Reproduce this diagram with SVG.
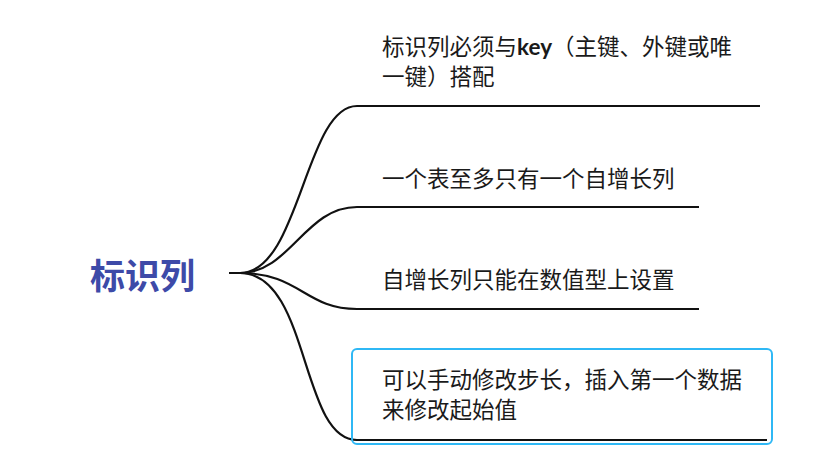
<svg xmlns="http://www.w3.org/2000/svg" width="835" height="472" viewBox="0 0 835 472">
<style>
.t{font-family:"Noto Sans CJK SC","Noto Sans",sans-serif;font-size:22.5px;fill:#1a1a1a}
.root{font-family:"Noto Sans CJK SC","Noto Sans",sans-serif;font-size:35px;font-weight:bold;fill:#3d4aa8}
.c{fill:none;stroke:#111;stroke-width:2.2;stroke-linecap:round}
.u{fill:none;stroke:#111;stroke-width:2.2}
</style>
<rect width="835" height="472" fill="#fff"/>
<g id="connectors">
<path class="c" d="M230 273 L240 273 C300 273 305 106 357 106"/>
<path class="c" d="M230 273 L240 273 C290 273 305 207 357 207"/>
<path class="c" d="M230 273 L240 273 C300 273 305 309 357 309"/>
<path class="c" d="M230 273 L240 273 C310 273 300 440 357 440"/>
</g>
<g id="root"><text class="root" x="90" y="289">标识列</text></g>
<g id="n1">
<text class="t" x="382" y="55">标识列必须与<tspan font-weight="bold" font-family="Lato,'Noto Sans',sans-serif">key</tspan>（主键、外键或唯</text>
<text class="t" x="382" y="85">一键）搭配</text>
<line class="u" x1="357" y1="106" x2="760" y2="106"/>
</g>
<g id="n2">
<text class="t" x="382" y="187">一个表至多只有一个自增长列</text>
<line class="u" x1="357" y1="207" x2="699" y2="207"/>
</g>
<g id="n3">
<text class="t" x="382" y="288">自增长列只能在数值型上设置</text>
<line class="u" x1="357" y1="309" x2="699" y2="309"/>
</g>
<g id="n4">
<rect x="352" y="349" width="420" height="95" rx="5" fill="none" stroke="#2fb8f5" stroke-width="2"/>
<text class="t" x="382" y="388">可以手动修改步长，插入第一个数据</text>
<text class="t" x="382" y="418">来修改起始值</text>
<line class="u" x1="357" y1="440" x2="767" y2="440"/>
</g>
</svg>
